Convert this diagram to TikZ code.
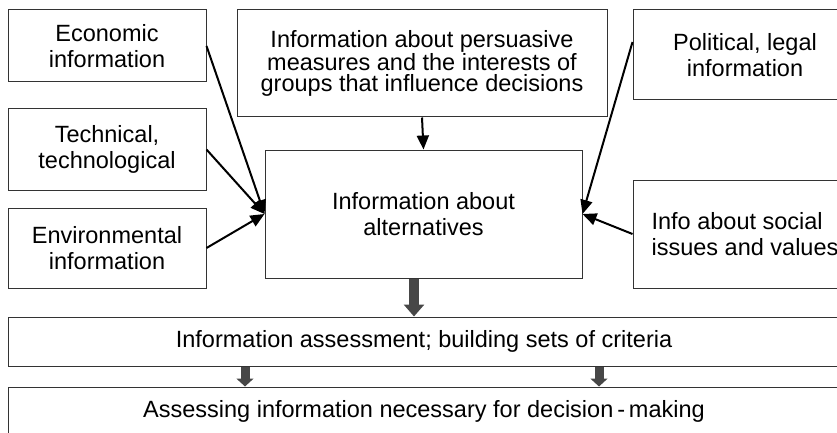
\documentclass[tikz,border=0pt]{standalone}
\usepackage{fontspec}
\setmainfont{Liberation Sans}
\usetikzlibrary{arrows.meta}

\tikzset{
  boite/.style={draw=black!80, line width=1pt, inner sep=0pt, align=center,
    font=\fontsize{23.5pt}{26.5pt}\selectfont},
  serre/.style={font=\fontsize{23.5pt}{21.7pt}\selectfont},
  fleche/.style={-{Triangle[length=14pt,width=12pt]}, line width=2pt},
  grosse/.style={-{Triangle[length=12pt,width=20pt]}, line width=10pt, draw=black!72},
  petite/.style={-{Triangle[length=8pt,width=17pt]}, line width=9pt, draw=black!72},
}

\begin{document}
\begin{tikzpicture}[x=1pt, y=-1pt]
  \useasboundingbox (0,0) rectangle (837,433);
  \clip (0,0) rectangle (837,433);

  % dessiner les boites de gauche
  \node[boite, minimum width=198pt, minimum height=72pt] (eco) at (107,46) {Economic\\information};
  \node[boite, minimum width=198pt, minimum height=81pt] (tech) at (107,149.5) {Technical,\\technological};
  \node[boite, minimum width=198pt, minimum height=80pt] (env) at (107,248) {Environmental\\information};

  % dessiner les boites du haut et du centre
  \node[boite, serre, minimum width=370pt, minimum height=107pt] (pers) at (422,63.5)
    {Information about persuasive\\measures and the interests of\\groups that influence decisions};
  \node[boite, minimum width=317pt, minimum height=128pt] (alt) at (423.5,214) {Information about\\alternatives};

  % dessiner les boites de droite
  \node[boite, minimum width=224pt, minimum height=90pt] (pol) at (745,55) {Political, legal\\information};
  \node[boite, align=left, minimum width=224pt, minimum height=108pt] (soc) at (745,234) {Info about social\\issues and values};

  % dessiner les bandes du bas
  \node[boite, minimum width=832pt, minimum height=49pt] (assess) at (424,341.5)
    {Information assessment; building sets of criteria};
  \node[boite, minimum width=832pt, minimum height=49pt] (assessing) at (424,411.5)
    {Assessing information necessary for decision\,-\,making};

  % dessiner les flèches
  \foreach \n in {eco,tech,env}
    \draw[fleche] (\n.east) -- (alt.west);
  \draw[fleche] ([yshift=13pt]pol.west) -- (alt.east);
  \draw[fleche] (soc.west) -- (alt.east);
  \draw[fleche] (pers.south) -- (alt.north);

  \draw[grosse] ([xshift=-9.5pt]alt.south) -- ([xshift=-10pt]assess.north);
  \draw[petite] ([xshift=-179pt]assess.south) -- ([xshift=-179pt]assessing.north);
  \draw[petite] ([xshift=175pt]assess.south) -- ([xshift=175pt]assessing.north);
\end{tikzpicture}
\end{document}
